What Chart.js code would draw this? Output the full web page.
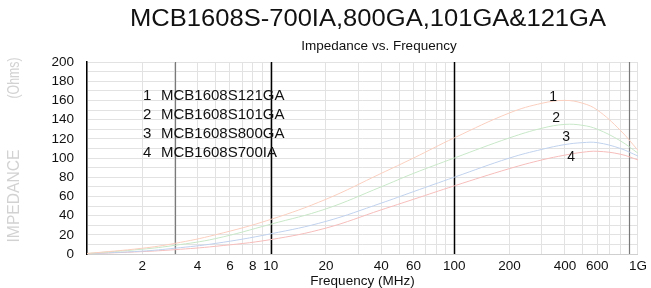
<!DOCTYPE html>
<html>
<head>
<meta charset="utf-8">
<script src="https://cdn.jsdelivr.net/npm/chart.js@4.4.1/dist/chart.umd.min.js"></script>
<style>
    body { margin: 0; background: #fff; }
    #wrap { width: 651px; height: 288px; }
</style>
</head>
<body>
<div id="wrap"><canvas id="impChart" width="651" height="288"></canvas></div>
<script>
// frequency points (MHz) and impedance (Ohms)
const freqs = [1, 2, 3, 5, 10, 20, 40, 60, 100, 200, 300, 400, 500, 600, 800, 1000];
const z121 = [0.5, 6, 11, 20, 36, 57, 84, 100, 121, 147, 157, 160, 157, 150, 129, 108];
const z101 = [0.5, 5, 9, 16, 31, 47, 70, 84, 100, 121, 131, 135, 134, 130, 118, 105];
const z800 = [0.3, 3, 6, 11, 21, 34, 53, 65, 80, 100, 109, 114, 116, 116, 110, 102];
const z700 = [0.2, 2.5, 4.5, 8, 15, 27, 46, 57, 71, 89, 98, 103, 106, 107, 104, 98];

const partNames = ["MCB1608S121GA", "MCB1608S101GA", "MCB1608S800GA", "MCB1608S700IA"];
const curveNums = ["1", "2", "3", "4"];
const curveColors = ["#fbcfbf", "#c8e8c8", "#c0d2ee", "#f6bdbb"];

// where the curve numbers sit (frequency, ohms)
const numFreqs = [345, 358, 406, 432];
const numVals = [163.5, 141.7, 122, 101];

const xLabelVals = [2, 4, 6, 8, 10, 20, 40, 60, 100, 200, 400, 600, 1000];
const xLabelText = ["2", "4", "6", "8", "10", "20", "40", "60", "100", "200", "400", "600", "1G"];
const markerFreqs = [3, 10, 100, 890];
const markerColors = ["#7a7a7a", "#000", "#000", "#7a7a7a"];

// log grid: 1..9 per decade
const gridVals = [];
[1, 10, 100].forEach(d => {
    for (let i = 1; i < 10; i++) gridVals.push(i * d);
});
gridVals.push(1000);

const series = [z121, z101, z800, z700];
const FONT = "Arial, 'Liberation Sans', sans-serif";

// text squeezed/stretched to a given width
function fitText(ctx, txt, cx, cy, w) {
    const m = ctx.measureText(txt).width;
    ctx.save();
    ctx.translate(cx, cy);
    ctx.scale(w / m, 1);
    ctx.fillText(txt, 0, 0);
    ctx.restore();
}

const decor = {
    id: "decor",
    beforeDatasetsDraw(chart) {
        const { ctx, chartArea, scales } = chart;
        ctx.save();
        markerFreqs.forEach((f, i) => {
            const x = Math.round(scales.x.getPixelForValue(f)) + 0.5;
            ctx.strokeStyle = markerColors[i];
            ctx.lineWidth = markerColors[i] === "#000" ? 1.5 : 1.2;
            ctx.beginPath();
            ctx.moveTo(x, chartArea.top);
            ctx.lineTo(x, chartArea.bottom);
            ctx.stroke();
        });
        ctx.restore();
    },
    afterDraw(chart) {
        const { ctx, chartArea, scales } = chart;
        ctx.save();
        ctx.fillStyle = "#111";
        ctx.textAlign = "center";
        ctx.textBaseline = "middle";

        ctx.font = "23px " + FONT;
        fitText(ctx, "MCB1608S-700IA,800GA,101GA&121GA", 368, 20, 476);
        ctx.font = "13.5px " + FONT;
        ctx.fillText("Impedance vs. Frequency", 379, 46);

        // y axis title
        ctx.save();
        ctx.translate(15, 150);
        ctx.rotate(-Math.PI / 2);
        ctx.fillStyle = "#d2d2d2";
        ctx.font = "16px " + FONT;
        fitText(ctx, "IMPEDANCE", -46, 0, 93);
        fitText(ctx, "(Ohms)", 72, 0, 41);
        ctx.restore();

        // part list
        ctx.font = "15px " + FONT;
        ctx.textAlign = "left";
        partNames.forEach((name, i) => {
            const y = chartArea.top + 34 + i * 19;
            ctx.fillText(curveNums[i], chartArea.left + 56, y);
            ctx.fillText(name, chartArea.left + 74, y);
        });

        // curve numbers
        ctx.textAlign = "center";
        ctx.font = "14px " + FONT;
        curveNums.forEach((n, i) => {
            ctx.fillText(n, scales.x.getPixelForValue(numFreqs[i]), scales.y.getPixelForValue(numVals[i]));
        });
        ctx.restore();
    }
};

const ctx = document.getElementById("impChart").getContext("2d");
const impChart = new Chart(ctx, {
    type: "line",
    data: {
        datasets: series.map((vals, i) => ({
            label: partNames[i],
            data: freqs.map((f, j) => ({ x: f, y: vals[j] })),
            borderColor: curveColors[i],
            borderWidth: 1,
            pointRadius: 0,
            fill: false,
            tension: 0.4
        }))
    },
    options: {
        responsive: false,
        animation: false,
        devicePixelRatio: 1,
        layout: { padding: { top: 62, right: 13, left: 0, bottom: 0 } },
        plugins: {
            legend: { display: false },
            tooltip: { enabled: false }
        },
        scales: {
            x: {
                type: "logarithmic",
                min: 1,
                max: 1000,
                afterBuildTicks: scale => {
                    scale.ticks = gridVals.map(v => ({ value: v }));
                },
                afterFit: scale => { scale.height = 34; },
                ticks: {
                    autoSkip: false,
                    maxRotation: 0,
                    padding: 4,
                    color: "#111",
                    font: { family: FONT, size: 13.5 },
                    callback: function (value) {
                        const k = xLabelVals.indexOf(Number(value));
                        return k >= 0 ? xLabelText[k] : "";
                    }
                },
                grid: { color: "#e2e2e2", drawTicks: false },
                border: { color: "#cfcfcf" },
                title: {
                    display: true,
                    text: "Frequency (MHz)",
                    color: "#111",
                    padding: { top: 0, bottom: 0 },
                    font: { family: FONT, size: 13.5, lineHeight: 1 }
                }
            },
            y: {
                min: 0,
                max: 200,
                afterFit: scale => { scale.width = 87; },
                ticks: {
                    stepSize: 10,
                    maxTicksLimit: 30,
                    autoSkip: false,
                    padding: 13,
                    color: "#111",
                    font: { family: FONT, size: 13.5 },
                    callback: v => (v % 20 === 0 ? v : "")
                },
                grid: { color: "#e2e2e2", drawTicks: false },
                border: { color: "#000", width: 1.5 }
            }
        }
    },
    plugins: [decor]
});
</script>
</body>
</html>
